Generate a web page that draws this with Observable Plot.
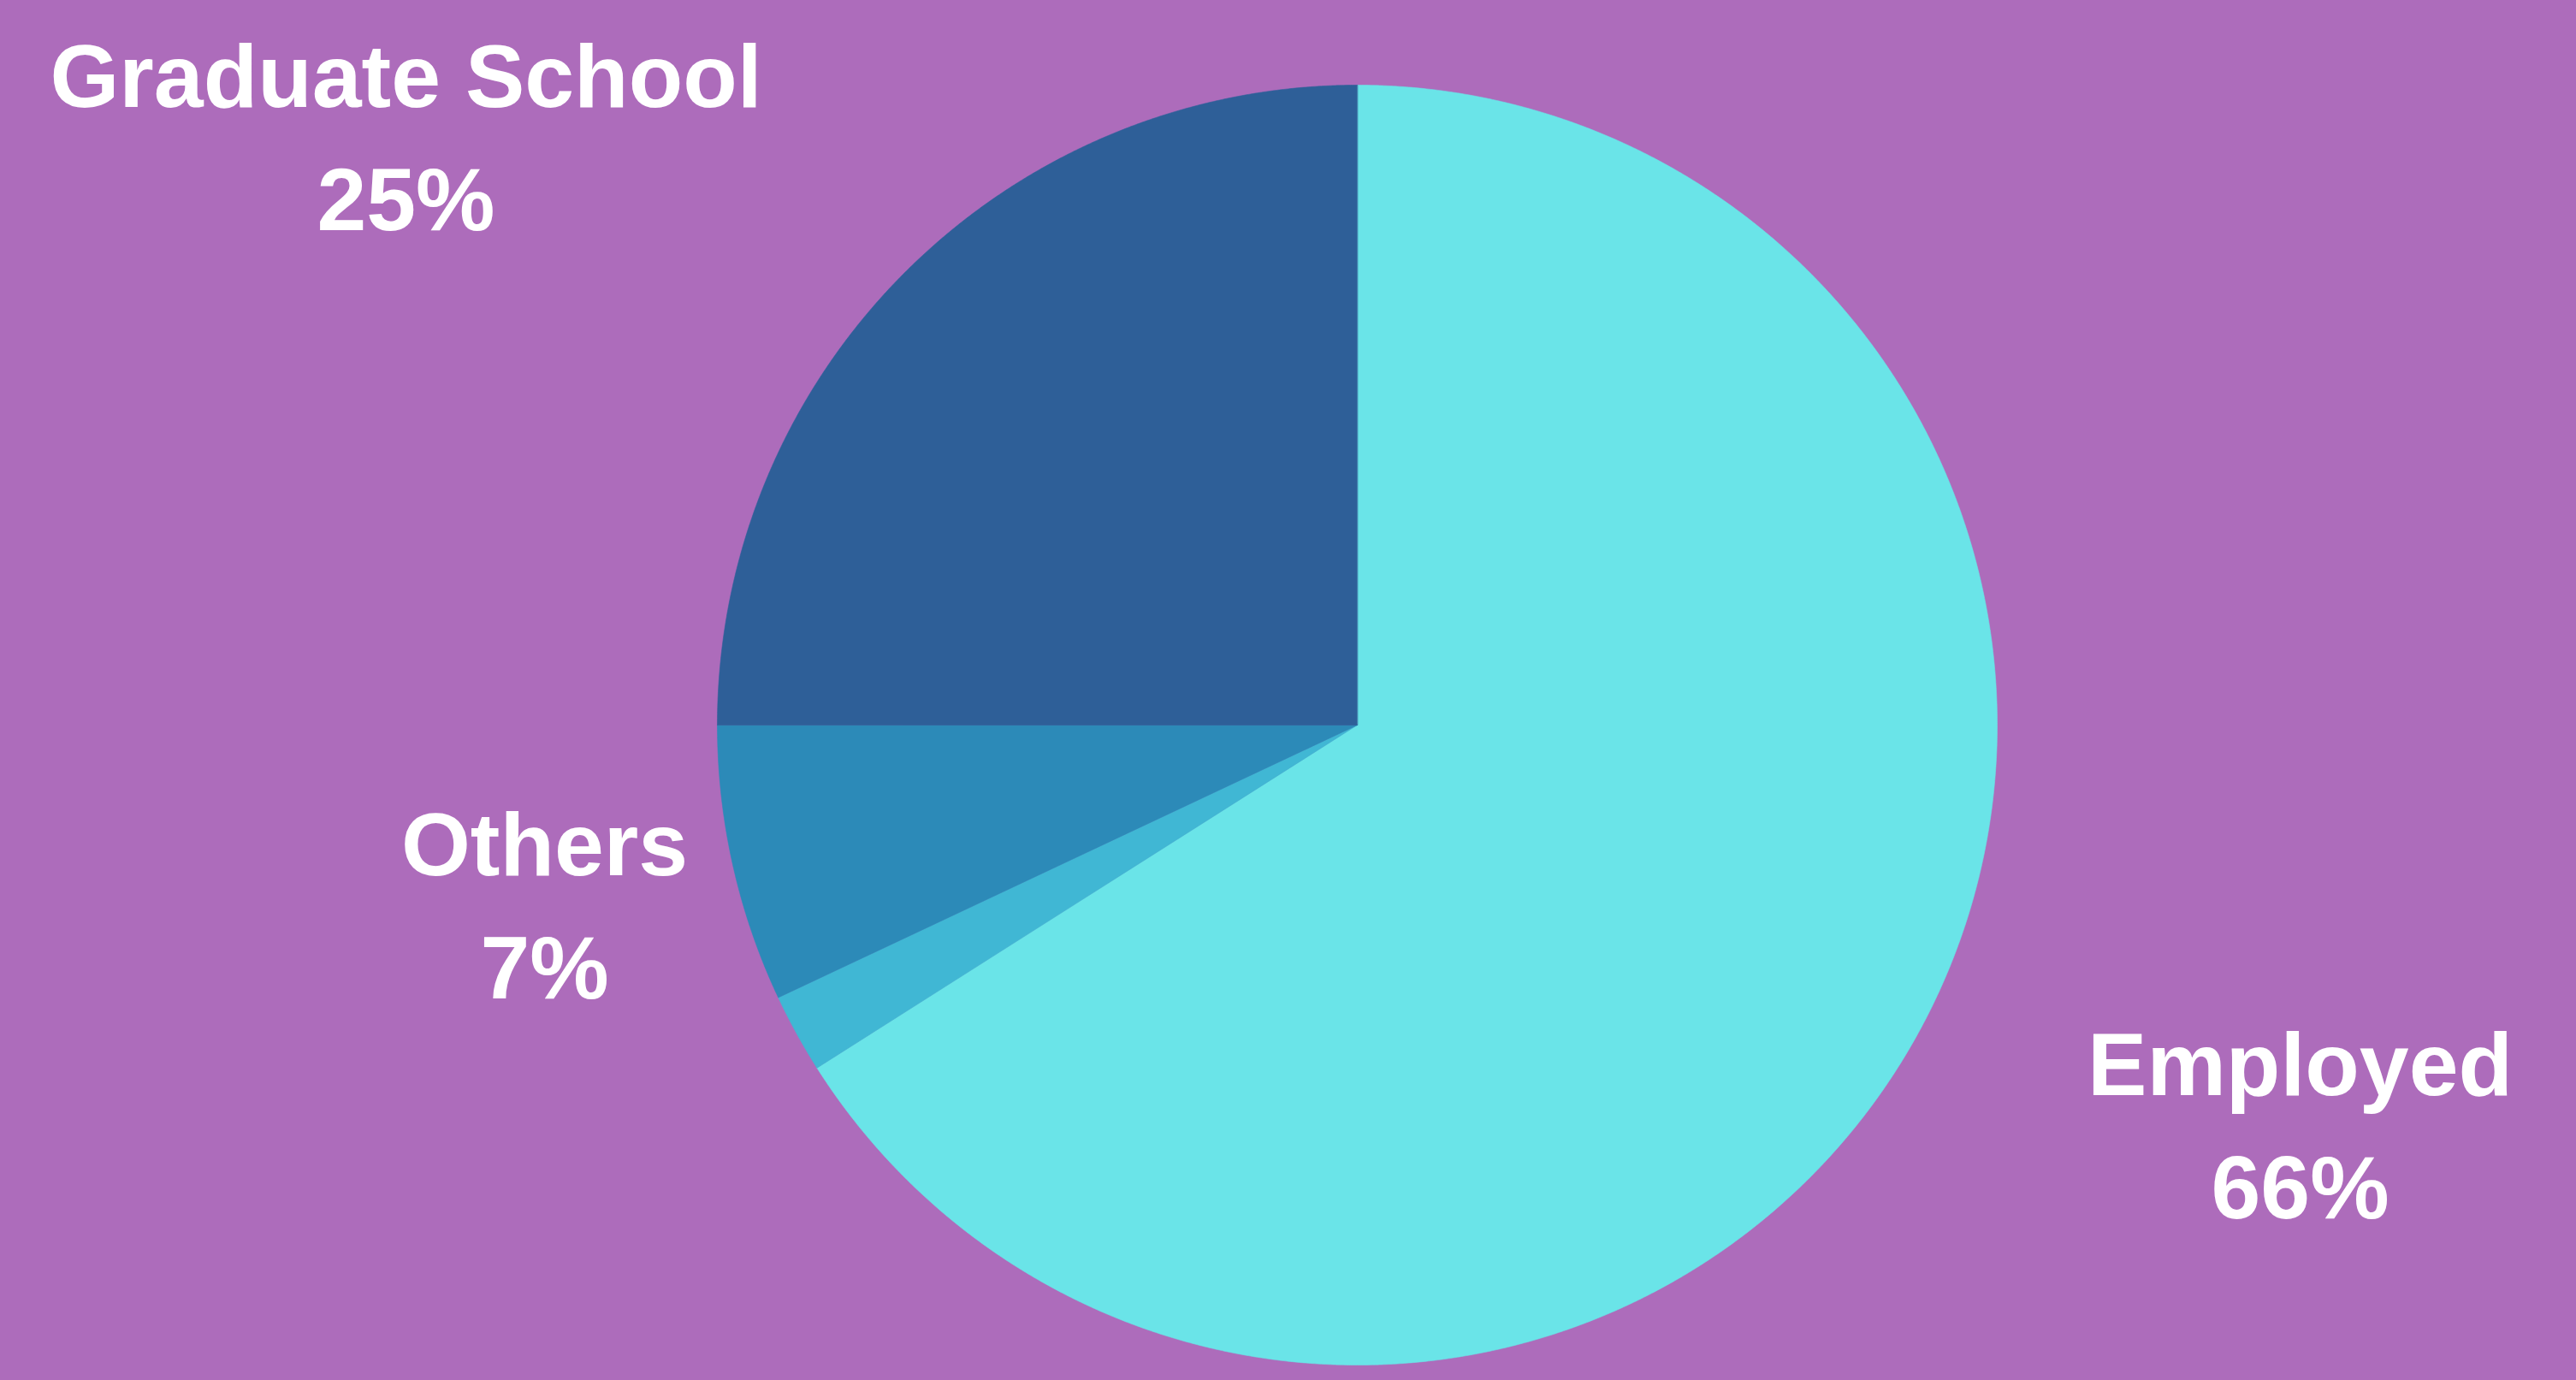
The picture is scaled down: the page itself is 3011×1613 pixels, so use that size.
<!DOCTYPE html>
<html>
<head>
<meta charset="utf-8">
<script src="https://cdn.jsdelivr.net/npm/d3@7"></script>
<script src="https://cdn.jsdelivr.net/npm/@observablehq/plot@0.6"></script>
<style>
  html, body { margin: 0; padding: 0; background: #AD6CBB; overflow: hidden; }
  #chart svg { display: block; }
</style>
</head>
<body>
<div id="chart"></div>
<script>
// ---- data (clockwise from 12 o'clock) ----
const categories = ["Employed", "Seeking", "Others", "Graduate School"];
const shares = [66, 2, 7, 25];
const shownLabels = [true, false, true, true];

// ---- styles / layout ----
const sliceColors = ["#6AE4E8", "#40B7D4", "#2C8AB8", "#2E5F98"];
const W = 3011, H = 1613;
const CX = 1586, CY = 847, R = 748;          // pie centre and radius in px
// label anchors, in radius units relative to pie centre (x right, y up)
const labelOffsets = {
  "Employed": [1.4733, -0.613],
  "Others": [-1.270, -0.2694],
  "Graduate School": [-1.4866, 0.9318]
};

// ---- build slice polygons from the data ----
const total = d3.sum(shares);
const polys = [];
let acc = 0;
categories.forEach((c, i) => {
  const a0 = acc / total * 2 * Math.PI;
  acc += shares[i];
  const a1 = acc / total * 2 * Math.PI;
  polys.push({cat: c, x: 0, y: 0});
  const n = Math.max(2, Math.ceil((a1 - a0) / (Math.PI / 900)));
  for (let k = 0; k <= n; k++) {
    const a = a0 + (a1 - a0) * k / n;
    polys.push({cat: c, x: Math.sin(a), y: Math.cos(a)});
  }
});

const labels = categories
  .map((c, i) => ({cat: c, text: `${c}\n${shares[i]}%`, show: shownLabels[i]}))
  .filter(d => d.show)
  .map(d => ({...d, x: labelOffsets[d.cat][0], y: labelOffsets[d.cat][1]}));

const chart = Plot.plot({
  width: W,
  height: H,
  margin: 0,
  style: {background: "#AD6CBB"},
  x: {domain: [-CX / R, (W - CX) / R], axis: null},
  y: {domain: [-(H - CY) / R, CY / R], axis: null},
  color: {type: "ordinal", domain: categories, range: sliceColors},
  marks: [
    Plot.line(polys, {
      x: "x", y: "y", z: "cat",
      fill: "cat", stroke: "cat", strokeWidth: 0.6,
      curve: "linear-closed"
    }),
    Plot.text(labels, {
      x: "x", y: "y", text: "text",
      fill: "white",
      fontSize: 104,
      fontWeight: "bold",
      fontFamily: "'Liberation Sans', Arial, sans-serif",
      lineHeight: 1.385,
      lineAnchor: "middle",
      textAnchor: "middle"
    })
  ]
});
document.getElementById("chart").appendChild(chart);
</script>
</body>
</html>
